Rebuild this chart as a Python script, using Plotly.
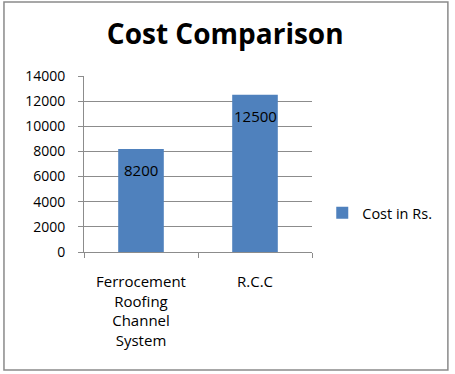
import plotly.graph_objects as go

categories = ["Ferrocement<br>Roofing<br>Channel<br>System", "R.C.C"]
values = [8200, 12500]
series_name = "Cost in Rs."
y_ticks = [0, 2000, 4000, 6000, 8000, 10000, 12000, 14000]
y_tick_text = [str(v) for v in y_ticks]

FONT = "Open Sans"
BAR = "#4F81BD"
GRID = "#8C8C8C"

fig = go.Figure()
fig.add_trace(go.Bar(
    x=categories, y=values, name=series_name,
    marker=dict(color=BAR, line=dict(width=0)),
    width=0.4,
))

for c, v in zip(categories, values):
    fig.add_annotation(x=c, y=v, text=str(v), showarrow=False,
                       yshift=-21, font=dict(family=FONT, size=15, color="black"))

fig.update_layout(
    width=455, height=374,
    margin=dict(l=84, r=143, t=76, b=122),
    paper_bgcolor="white", plot_bgcolor="white",
    title=dict(text="<b>Cost Comparison</b>", x=0.495, xanchor="center",
               y=1 - 34 / 374, yanchor="middle",
               font=dict(family=FONT, size=28, color="black")),
    showlegend=True,
    legend=dict(x=1.045, y=0.222, xanchor="left", yanchor="middle",
                font=dict(family=FONT, size=14.5, color="black"),
                itemwidth=30, bgcolor="rgba(0,0,0,0)"),
    shapes=[dict(type="rect", xref="paper", yref="paper",
                 x0=-0.351, x1=1.596, y0=-0.670, y1=1.420,
                 line=dict(color="#8A8A8A", width=1.5), fillcolor="rgba(0,0,0,0)",
                 layer="below")],
)

fig.update_xaxes(
    showline=True, linecolor=GRID, linewidth=1,
    ticks="outside", ticklen=5, tickcolor=GRID, tickson="boundaries",
    showgrid=False,
    tickfont=dict(family=FONT, size=15, color="black"),
    ticklabelstandoff=16,
)
fig.update_yaxes(
    range=[0, 14000], tickvals=y_ticks, ticktext=y_tick_text,
    showline=True, linecolor=GRID, linewidth=1,
    ticks="outside", ticklen=5, tickcolor=GRID,
    showgrid=True, gridcolor=GRID, gridwidth=1,
    zeroline=False,
    tickfont=dict(family=FONT, size=14, color="black"),
    ticklabelstandoff=10,
)

fig.write_html("out.html")
